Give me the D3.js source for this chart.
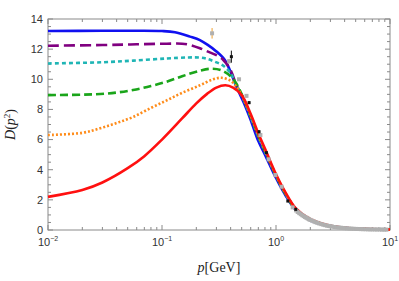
<!DOCTYPE html>
<html>
<head>
<meta charset="utf-8">
<script src="https://cdn.jsdelivr.net/npm/d3@7"></script>
<style>
  body { margin: 0; background: #fff; }
  text { font-family: "Liberation Sans", Arial, sans-serif; }
</style>
</head>
<body>
<div id="vis"></div>
<script>
(function () {
    // curves: [p (GeV), D(p^2)]
    const blue = [[0.01, 13.2], [0.03, 13.22], [0.06, 13.22], [0.1, 13.2], [0.13, 13.12], [0.176, 12.83], [0.215, 12.6], [0.25, 12.3], [0.3, 11.85], [0.356, 11.28], [0.394, 10.6], [0.45, 9.5], [0.532, 8.3], [0.6, 7.3], [0.7, 5.9], [0.8, 5.0], [1.0, 3.45], [1.2, 2.35], [1.5, 1.3], [2, 0.65], [3, 0.25], [5, 0.08], [10, 0.02]];
    const purple = [[0.01, 12.23], [0.03, 12.27], [0.06, 12.32], [0.11, 12.36], [0.15, 12.36], [0.176, 12.28], [0.215, 12.06], [0.25, 11.85], [0.3, 11.6], [0.345, 11.28], [0.4, 10.6], [0.45, 9.6], [0.5, 8.95], [0.6, 7.5], [0.7, 6.2], [0.8, 5.2], [1.0, 3.6], [1.2, 2.45], [1.5, 1.35], [2, 0.68], [3, 0.26], [5, 0.08], [10, 0.02]];
    const cyan = [[0.01, 11.05], [0.03, 11.13], [0.056, 11.24], [0.11, 11.38], [0.17, 11.45], [0.215, 11.44], [0.25, 11.35], [0.29, 11.17], [0.345, 10.9], [0.4, 10.4], [0.45, 9.6], [0.5, 8.95], [0.6, 7.5], [0.7, 6.2], [0.8, 5.2], [1.0, 3.6], [1.2, 2.45], [1.5, 1.35], [2, 0.68], [3, 0.26], [5, 0.08], [10, 0.02]];
    const green = [[0.01, 8.95], [0.02, 8.98], [0.0287, 9.02], [0.04, 9.12], [0.0557, 9.29], [0.08, 9.55], [0.11, 9.84], [0.15, 10.2], [0.215, 10.57], [0.272, 10.7], [0.33, 10.6], [0.4, 10.2], [0.45, 9.7], [0.5, 9.0], [0.6, 7.55], [0.7, 6.25], [0.8, 5.25], [1.0, 3.62], [1.2, 2.47], [1.5, 1.36], [2, 0.69], [3, 0.27], [5, 0.085], [10, 0.025]];
    const orange = [[0.01, 6.3], [0.02, 6.45], [0.0287, 6.75], [0.04, 7.1], [0.0557, 7.5], [0.08, 8.1], [0.11, 8.6], [0.15, 9.1], [0.215, 9.6], [0.28, 10.0], [0.333, 10.1], [0.4, 9.9], [0.45, 9.5], [0.5, 8.95], [0.6, 7.6], [0.7, 6.3], [0.8, 5.3], [1.0, 3.65], [1.2, 2.5], [1.5, 1.38], [2, 0.7], [3, 0.27], [5, 0.09], [10, 0.025]];
    const red = [[0.01, 2.2], [0.02, 2.65], [0.03, 3.15], [0.05, 4.1], [0.07, 4.9], [0.1, 6.0], [0.15, 7.4], [0.2, 8.4], [0.25, 9.05], [0.3, 9.45], [0.36, 9.6], [0.42, 9.45], [0.5, 8.95], [0.6, 7.7], [0.7, 6.4], [0.8, 5.4], [1.0, 3.7], [1.2, 2.55], [1.5, 1.42], [2, 0.72], [3, 0.28], [5, 0.09], [10, 0.03]];

    // lattice points: [p, D, err]
    const grayPts = [[0.275, 13.05, 0.35], [0.388, 11.2, 0.15], [0.474, 10.0, 0.1], [0.551, 8.9, 0.1], [0.73, 6.3, 0.05], [0.862, 4.69, 0.05], [0.988, 3.65, 0.05], [1.12, 2.87, 0.03], [1.40, 1.5, 0.03],
        [1.5, 1.3, 0], [1.55, 1.2, 0], [1.6, 1.12, 0], [1.65, 1.05, 0], [1.7, 0.98, 0], [1.75, 0.92, 0], [1.8, 0.86, 0], [1.85, 0.81, 0], [1.9, 0.76, 0], [1.95, 0.71, 0], [2.0, 0.67, 0], [2.07, 0.62, 0], [2.15, 0.57, 0], [2.22, 0.52, 0], [2.3, 0.48, 0], [2.4, 0.43, 0], [2.5, 0.39, 0], [2.6, 0.35, 0], [2.7, 0.32, 0], [2.8, 0.29, 0], [2.9, 0.27, 0], [3.0, 0.25, 0], [3.1, 0.23, 0], [3.25, 0.2, 0], [3.4, 0.18, 0], [3.55, 0.165, 0], [3.7, 0.15, 0], [3.85, 0.135, 0], [4.0, 0.12, 0], [4.2, 0.11, 0], [4.4, 0.1, 0], [4.6, 0.09, 0], [4.8, 0.08, 0], [5.05, 0.072, 0], [5.3, 0.065, 0], [5.55, 0.06, 0], [5.8, 0.055, 0], [6.1, 0.05, 0], [6.4, 0.045, 0], [6.7, 0.042, 0], [7.0, 0.04, 0], [7.35, 0.037, 0], [7.7, 0.035, 0], [8.1, 0.032, 0], [8.5, 0.03, 0], [8.9, 0.027, 0], [9.3, 0.025, 0]];
    const blackPts = [[0.406, 11.5, 0.4], [0.581, 8.45, 0.1], [0.71, 6.52, 0.1], [0.824, 5.13, 0.05], [1.27, 1.92, 0.05], [1.49, 1.37, 0.05]];

    const yTicks = [0, 2, 4, 6, 8, 10, 12, 14];
    const xTickExps = [-2, -1, 0, 1];

    const W = 399, H = 281;
    const margin = { top: 19, right: 9, bottom: 51, left: 48 };
    const width = W - margin.left - margin.right;
    const height = H - margin.top - margin.bottom;

    const svg = d3.select("#vis").append("svg")
        .attr("width", W)
        .attr("height", H)
        .append("g")
        .attr("transform", `translate(${margin.left},${margin.top})`);

    const x = d3.scaleLog().domain([0.01, 10]).range([0, width]);
    const y = d3.scaleLinear().domain([0, 14]).range([height, 0]);

    const axisColor = "#8a8a8a";
    const labelColor = "#333";

    // frame
    svg.append("rect")
        .attr("width", width).attr("height", height)
        .attr("fill", "none").attr("stroke", axisColor).attr("stroke-width", 1);

    // y ticks (left and right), major every 2, minor every 0.5
    const yMinor = d3.range(0, 14.01, 0.5);
    yMinor.forEach(v => {
        const major = v % 2 === 0;
        const len = major ? 5 : 3;
        svg.append("line").attr("x1", 0).attr("x2", len).attr("y1", y(v)).attr("y2", y(v))
            .attr("stroke", axisColor);
        svg.append("line").attr("x1", width).attr("x2", width - len).attr("y1", y(v)).attr("y2", y(v))
            .attr("stroke", axisColor);
    });
    svg.selectAll(".ylab").data(yTicks).enter().append("text")
        .attr("x", -5).attr("y", d => y(d)).attr("dy", "0.35em")
        .attr("text-anchor", "end").attr("font-size", 11).attr("fill", labelColor)
        .text(d => d);

    // x ticks (log)
    const xMinor = [];
    for (let e = -2; e < 1; e++) for (let k = 1; k < 10; k++) xMinor.push(k * Math.pow(10, e));
    xMinor.push(10);
    xMinor.forEach(v => {
        const major = Math.abs(Math.log10(v) - Math.round(Math.log10(v))) < 1e-9;
        const len = major ? 5 : 3;
        svg.append("line").attr("x1", x(v)).attr("x2", x(v)).attr("y1", height).attr("y2", height - len)
            .attr("stroke", axisColor);
        svg.append("line").attr("x1", x(v)).attr("x2", x(v)).attr("y1", 0).attr("y2", len)
            .attr("stroke", axisColor);
    });
    xTickExps.forEach(e => {
        const t = svg.append("text")
            .attr("x", x(Math.pow(10, e))).attr("y", height + 16)
            .attr("text-anchor", "middle").attr("font-size", 11).attr("fill", labelColor);
        t.append("tspan").text("10");
        t.append("tspan").attr("dy", -5).attr("font-size", 7).text(e < 0 ? "\u2212" + (-e) : e);
    });

    // axis titles
    const xl = svg.append("text")
        .attr("x", width / 2).attr("y", height + 42)
        .attr("text-anchor", "middle").attr("font-size", 14)
        .style("font-family", "'Liberation Serif', 'DejaVu Serif', serif").attr("fill", "#222");
    xl.append("tspan").attr("font-style", "italic").text("p");
    xl.append("tspan").text("[GeV]");

    const yl = svg.append("text")
        .attr("transform", `translate(-33,${height / 2}) rotate(-90)`)
        .attr("text-anchor", "middle").attr("font-size", 14)
        .style("font-family", "'Liberation Serif', 'DejaVu Serif', serif").attr("fill", "#222");
    yl.append("tspan").attr("font-style", "italic").text("D");
    yl.append("tspan").text("(");
    yl.append("tspan").attr("font-style", "italic").text("p");
    yl.append("tspan").attr("dy", -5).attr("font-size", 9).text("2");
    yl.append("tspan").attr("dy", 5).text(")");

    const line = d3.line()
        .x(d => x(d[0]))
        .y(d => y(d[1]))
        .curve(d3.curveCatmullRom.alpha(0.5));

    const plot = svg.append("g");

    const drawPts = (pts, fill, errColor, size) => {
        pts.forEach(d => {
            if (d[2] > 0) {
                plot.append("line")
                    .attr("x1", x(d[0])).attr("x2", x(d[0]))
                    .attr("y1", y(d[1] - d[2])).attr("y2", y(d[1] + d[2]))
                    .attr("stroke", errColor).attr("stroke-width", 1);
            }
            plot.append("rect")
                .attr("x", x(d[0]) - size / 2).attr("y", y(d[1]) - size / 2)
                .attr("width", size).attr("height", size)
                .attr("fill", fill);
        });
    };

    const series = [
        { data: red, color: "#ff1010", dash: null },
        { data: orange, color: "#ff8c1a", dash: "2,2" },
        { data: green, color: "#1aa51a", dash: "8,4" },
        { data: cyan, color: "#1fb5b5", dash: "4,3" },
        { data: purple, color: "#800080", dash: "11,5" },
        { data: blue, color: "#1010f0", dash: null }
    ];

    series.slice().reverse().forEach(s => {
        plot.append("path")
            .datum(s.data)
            .attr("fill", "none")
            .attr("stroke", s.color)
            .attr("stroke-width", 2.6)
            .attr("stroke-dasharray", s.dash)
            .attr("d", line);
    });

    drawPts(grayPts, "#b0b0b0", "#f0a030", 4);
    drawPts(blackPts, "#111", "#111", 3);
})();
</script>
</body>
</html>
